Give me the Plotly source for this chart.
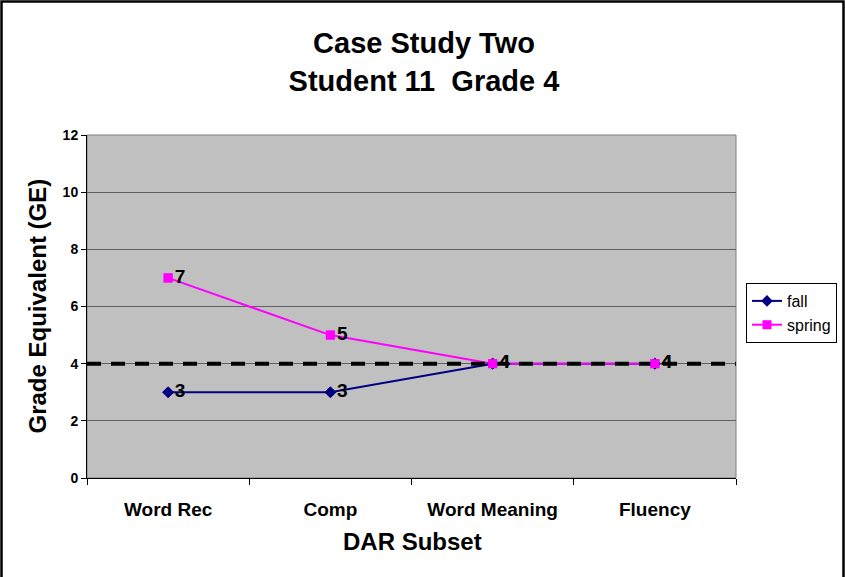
import plotly.graph_objects as go

# DAR subtest scores (grade equivalents), fall vs spring
categories = ["Word Rec", "Comp", "Word Meaning", "Fluency"]
fall_scores = [3, 3, 4, 4]
spring_scores = [7, 5, 4, 4]
grade_level = 4
y_ticks = [0, 2, 4, 6, 8, 10, 12]

FONT = "Liberation Sans, Arial, sans-serif"
W, H = 845, 577
ML, MR, MT, MB = 87, 109, 135, 99
PW, PH = W - ML - MR, H - MT - MB

xpos = list(range(len(categories)))
x_lo, x_hi = -0.5, len(categories) - 0.5

NAVY = "#000080"
MAGENTA = "#FF00FF"

fig = go.Figure()

series = [
    ("fall", fall_scores, NAVY, "diamond", 9),
    ("spring", spring_scores, MAGENTA, "square", 9),
]

# lines with legend entries
for name, vals, color, sym, size in series:
    fig.add_trace(go.Scatter(
        x=xpos, y=vals, name=name, mode="lines+markers",
        line=dict(color=color, width=2),
        marker=dict(symbol=sym, size=size, color=color),
    ))

# grade-level reference line
fig.add_trace(go.Scatter(
    x=[x_lo, x_hi], y=[grade_level, grade_level], mode="lines",
    line=dict(color="black", width=4, dash="14px,10px"),
    showlegend=False, hoverinfo="skip",
))

# markers and value labels on top
for name, vals, color, sym, size in series:
    fig.add_trace(go.Scatter(
        x=xpos, y=vals, mode="markers+text",
        marker=dict(symbol=sym, size=size, color=color),
        text=[f"<b>{v}</b>" for v in vals], textposition="middle right",
        textfont=dict(family=FONT, size=19, color="black"),
        showlegend=False, hoverinfo="skip",
    ))

fig.update_layout(
    width=W, height=H,
    autosize=False,
    margin=dict(l=ML, r=MR, t=MT, b=MB, pad=0, autoexpand=False),
    paper_bgcolor="white", plot_bgcolor="#C0C0C0",
    font=dict(family=FONT, color="black"),
    title=dict(
        text="<b>Case Study Two<br>Student 11\u00a0\u00a0Grade 4</b>",
        x=(424 - ML) / PW, xref="paper", xanchor="center",
        y=1 - 53 / H, yref="container", yanchor="middle",
        font=dict(family=FONT, size=29, color="black"),
    ),
    showlegend=True,
    legend=dict(
        x=(746 - ML) / PW, y=(H - MB - 283) / PH, xanchor="left", yanchor="top",
        bordercolor="black", borderwidth=1, bgcolor="white",
        font=dict(family=FONT, size=16, color="black"),
        itemwidth=30, tracegroupgap=0,
    ),
    xaxis=dict(
        range=[x_lo, x_hi], tickmode="array", tickvals=xpos,
        ticktext=[f"<b>{c}</b>" for c in categories],
        ticks="", showgrid=False, zeroline=False,
        showline=True, linecolor="black", linewidth=1,
        tickfont=dict(family=FONT, size=19, color="black"),
        ticklabelstandoff=14,
        minor=dict(tickmode="array", tickvals=[i - 0.5 for i in range(len(categories) + 1)],
                   ticks="outside", ticklen=6, tickcolor="black", tickwidth=1, showgrid=False),
    ),
    yaxis=dict(
        range=[0, 12], tickmode="array", tickvals=y_ticks,
        ticktext=[f"<b>{v}</b>" for v in y_ticks],
        ticks="outside", ticklen=5, tickcolor="black",
        showgrid=True, gridcolor="#606060", gridwidth=1, zeroline=False,
        showline=True, linecolor="black", linewidth=1,
        tickfont=dict(family=FONT, size=14, color="black"),
    ),
    annotations=[
        dict(text="<b>Grade Equivalent (GE)</b>", textangle=-90,
             xref="paper", yref="paper", x=(37 - ML) / PW, y=0.5,
             xanchor="center", yanchor="middle", showarrow=False,
             font=dict(family=FONT, size=24, color="black")),
        dict(text="<b>DAR Subset</b>",
             xref="paper", yref="paper", x=(412 - ML) / PW, y=(H - MB - 541) / PH,
             xanchor="center", yanchor="middle", showarrow=False,
             font=dict(family=FONT, size=24, color="black")),
    ],
    shapes=[
        # gray plot-area frame (top/right)
        dict(type="rect", xref="paper", yref="paper", x0=0, x1=1, y0=0, y1=1,
             line=dict(color="#808080", width=1), layer="below"),
        # outer chart border
        dict(type="rect", xref="paper", yref="paper",
             x0=(1.5 - ML) / PW, x1=(843.5 - ML) / PW,
             y0=(H - MB - 600) / PH, y1=(H - MB - 1.5) / PH,
             line=dict(color="black", width=2.5)),
    ],
)

fig.write_html("out.html")
